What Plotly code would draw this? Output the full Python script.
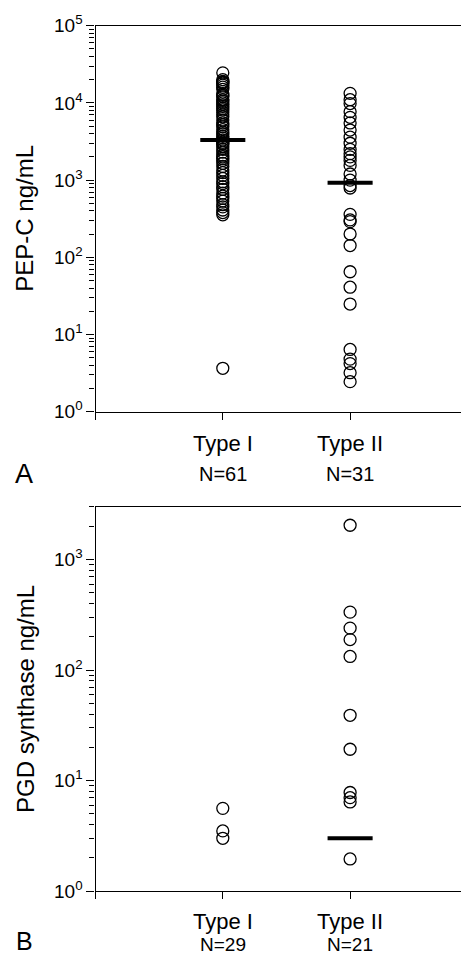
import plotly.graph_objects as go

# ---------------- data ----------------
categories = ["Type I", "Type II"]
n_top = ["N=61", "N=31"]
n_bottom = ["N=29", "N=21"]

pepc_type1 = [24500, 20000, 19000, 18500, 18000, 17000, 16000, 15000, 13000, 12500,
              12000, 11000, 10500, 10000, 9500, 9000, 8500, 8100, 7500, 7000,
              6600, 6000, 5500, 5200, 4900, 4500, 4200, 4000, 3700, 3500,
              3300, 3100, 3000, 2900, 2700, 2500, 2300, 2100, 2000, 1900,
              1800, 1650, 1500, 1350, 1250, 1150, 1050, 950, 900, 820,
              760, 680, 620, 580, 535, 480, 450, 410, 380, 355, 3.65]
pepc_type2 = [13300, 11000, 9800, 7700, 6500, 5500, 4450, 3600, 3000, 2500,
              2200, 2000, 1800, 1550, 1200, 1000, 850, 790, 360, 305,
              290, 200, 142, 65, 41, 24.8, 6.4, 4.8, 4.2, 3.2, 2.45]
pepc_median = [3300, 925]

pgd_type1 = [5.6, 3.5, 3.0]
pgd_type2 = [2050, 335, 240, 189, 133, 39, 19.2, 7.8, 7.0, 6.4, 1.95]
pgd_median = [None, 3.0]

major_top = [1, 10, 100, 1000, 10000, 100000]
major_top_text = ["10<sup>0</sup>", "10<sup>1</sup>", "10<sup>2</sup>",
                  "10<sup>3</sup>", "10<sup>4</sup>", "10<sup>5</sup>"]
major_bot = [1, 10, 100, 1000]
major_bot_text = ["10<sup>0</sup>", "10<sup>1</sup>", "10<sup>2</sup>", "10<sup>3</sup>"]

# ---------------- layout constants ----------------
# page body has an 8px margin; the figure is sized to fit inside the window
OFF = 8
W, H = 469 - 2 * OFF, 963 - 2 * OFF
FONT = "Liberation Sans, Arial, sans-serif"


def py(s):
    """screen y (px) -> paper fraction"""
    return 1 - (s - OFF) / H


def px(s):
    """screen x (px) -> paper fraction"""
    return (s - OFF) / W


minor_top = [m * 10 ** k for k in range(0, 5) for m in range(2, 10)]
minor_bot = [m * 10 ** k for k in range(0, 4) for m in range(2, 10)]

marker = dict(symbol="circle-open", size=12, color="black", line=dict(width=1.3, color="black"))
half = 0.177

fig = go.Figure()

# top panel
for i, vals in enumerate([pepc_type1, pepc_type2]):
    fig.add_trace(go.Scatter(x=[i + 1] * len(vals), y=vals, mode="markers",
                             marker=marker, xaxis="x", yaxis="y", showlegend=False))
for i, m in enumerate(pepc_median):
    if m is not None:
        fig.add_trace(go.Scatter(x=[i + 1 - half, i + 1 + half], y=[m, m], mode="lines",
                                 line=dict(color="black", width=4), xaxis="x", yaxis="y",
                                 showlegend=False))
# bottom panel
for i, vals in enumerate([pgd_type1, pgd_type2]):
    fig.add_trace(go.Scatter(x=[i + 1] * len(vals), y=vals, mode="markers",
                             marker=marker, xaxis="x2", yaxis="y2", showlegend=False))
for i, m in enumerate(pgd_median):
    if m is not None:
        fig.add_trace(go.Scatter(x=[i + 1 - half, i + 1 + half], y=[m, m], mode="lines",
                                 line=dict(color="black", width=4), xaxis="x2", yaxis="y2",
                                 showlegend=False))

AX_X = 95.5          # screen x of the y axis
UNIT = 127.3         # px per category step
x_max = (OFF + W - AX_X) / UNIT

xaxis_common = dict(range=[0, x_max], tickmode="array", tickvals=[0, 1, 2], ticktext=["", "", ""],
                    ticks="outside", ticklen=7, tickwidth=1.2, tickcolor="black",
                    showline=True, linecolor="black", linewidth=1.3, mirror=True,
                    showgrid=False, zeroline=False, domain=[px(AX_X), 1], automargin=False)
yaxis_common = dict(type="log", tickmode="array", ticks="outside", ticklen=8, tickwidth=1.3,
                    tickcolor="black", showline=True, linecolor="black", linewidth=1.3,
                    showgrid=False, zeroline=False, automargin=False,
                    tickfont=dict(family=FONT, size=19, color="black"))

fig.update_layout(
    template="none",
    width=W, height=H,
    margin=dict(l=0, r=0, t=0, b=0, pad=0),
    plot_bgcolor="white", paper_bgcolor="white",
    font=dict(family=FONT, color="black"),
    xaxis=dict(**xaxis_common, anchor="y"),
    yaxis=dict(**yaxis_common, anchor="x", range=[0, 5],
               tickvals=major_top, ticktext=major_top_text,
               domain=[py(411.7), py(25.7)],
               minor=dict(tickmode="array", tickvals=minor_top, ticks="outside",
                          ticklen=5, tickwidth=1, tickcolor="black", showgrid=False)),
    xaxis2=dict(**xaxis_common, anchor="y2"),
    yaxis2=dict(**yaxis_common, anchor="x2", range=[0, 3.477],
                tickvals=major_bot, ticktext=major_bot_text,
                domain=[py(891), py(507)],
                minor=dict(tickmode="array", tickvals=minor_bot, ticks="outside",
                           ticklen=5, tickwidth=1, tickcolor="black", showgrid=False)),
)

ann = []
# y titles
ann.append(dict(text="PEP-C ng/mL", x=px(25), y=py(218.7), xref="paper", yref="paper",
                textangle=-90, showarrow=False, font=dict(size=24, family=FONT),
                xanchor="center", yanchor="middle"))
ann.append(dict(text="PGD synthase ng/mL", x=px(25), y=py(699), xref="paper", yref="paper",
                textangle=-90, showarrow=False, font=dict(size=24, family=FONT),
                xanchor="center", yanchor="middle"))
# category labels
for i, c in enumerate(categories):
    ann.append(dict(text=c, x=i + 1, xref="x", y=py(444), yref="paper", showarrow=False,
                    font=dict(size=22, family=FONT), xanchor="center", yanchor="middle"))
    ann.append(dict(text=n_top[i], x=i + 1, xref="x", y=py(474), yref="paper", showarrow=False,
                    font=dict(size=20, family=FONT), xanchor="center", yanchor="middle"))
    ann.append(dict(text=c, x=i + 1, xref="x2", y=py(921), yref="paper", showarrow=False,
                    font=dict(size=22, family=FONT), xanchor="center", yanchor="middle"))
    ann.append(dict(text=n_bottom[i], x=i + 1, xref="x2", y=py(944), yref="paper", showarrow=False,
                    font=dict(size=19, family=FONT), xanchor="center", yanchor="middle"))
# panel letters
ann.append(dict(text="A", x=px(24), y=py(474), xref="paper", yref="paper", showarrow=False,
                font=dict(size=27, family=FONT), xanchor="center", yanchor="middle"))
ann.append(dict(text="B", x=px(24), y=py(941), xref="paper", yref="paper", showarrow=False,
                font=dict(size=25, family=FONT), xanchor="center", yanchor="middle"))
fig.update_layout(annotations=ann)

fig.write_html("out.html")
